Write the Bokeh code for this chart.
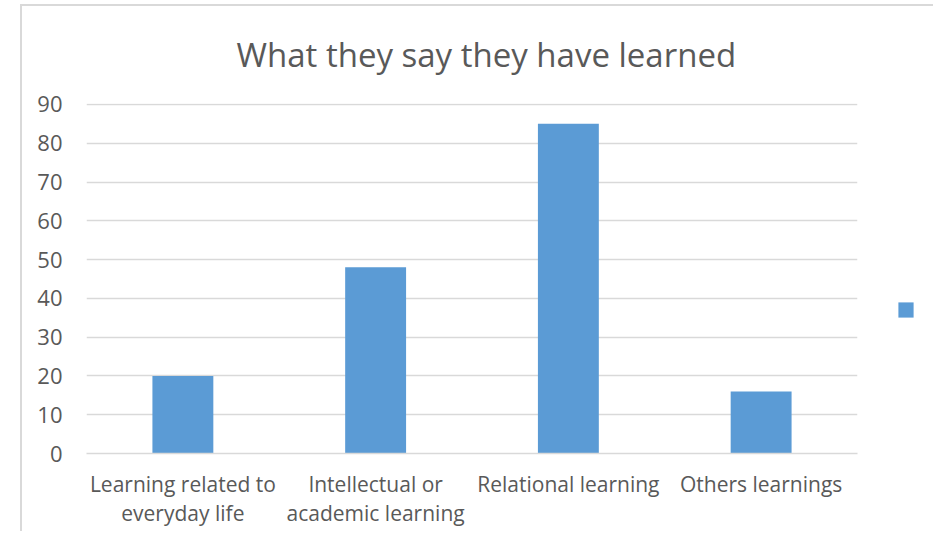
from bokeh.plotting import figure
from bokeh.models import Legend, LegendItem, ColumnDataSource
from bokeh.embed import file_html
from bokeh.resources import INLINE

categories = ["Learning related to\neveryday life", "Intellectual or\nacademic learning",
              "Relational learning", "Others learnings"]
values = [20, 48, 85, 16]
y_ticks = [0, 10, 20, 30, 40, 50, 60, 70, 80, 90]
title_text = "What they say they have learned"

FONT = "Open Sans"
TXT = "#595959"
GRID = "#d9d9d9"
BAR = "#5B9BD5"

src = ColumnDataSource(dict(cat=categories, val=values))

p = figure(x_range=categories, y_range=(0, 90.25), frame_width=771, frame_height=350,
           output_backend="svg", toolbar_location=None,
           min_border_left=86, min_border_right=68, min_border_top=103, min_border_bottom=78)
p.border_fill_alpha = 0
p.styles = {"background": "linear-gradient(#d9d9d9, #d9d9d9) 20px 4px / 2px 100% no-repeat, "
                          "linear-gradient(#d9d9d9, #d9d9d9) 20px 4px / 100% 2px no-repeat, white"}

r = p.vbar(x="cat", top="val", width=0.316, source=src, color=BAR, line_color=None)

p.title.text = title_text
p.title.align = "left"
p.title.text_font = FONT
p.title.text_font_style = "normal"
p.title.text_font_size = "33px"
p.title.text_color = TXT
p.title.offset = 150
p.title.standoff = 54

p.outline_line_color = None
p.xgrid.grid_line_color = None
p.ygrid.grid_line_color = GRID
p.ygrid.grid_line_width = 1.5
p.yaxis.ticker = y_ticks
p.yaxis.axis_line_color = None
p.yaxis.major_tick_line_color = None
p.yaxis.minor_tick_line_color = None
p.yaxis.major_label_text_font = FONT
p.yaxis.major_label_text_font_size = "22px"
p.yaxis.major_label_text_color = TXT
p.yaxis.major_label_standoff = 18

p.xaxis.axis_line_color = GRID
p.xaxis.axis_line_width = 1.5
p.xaxis.major_tick_line_color = None
p.xaxis.minor_tick_line_color = None
p.xaxis.major_label_text_font = FONT
p.xaxis.major_label_text_font_size = "21px"
p.xaxis.major_label_text_color = TXT
p.xaxis.major_label_text_line_height = 1.05
p.xaxis.major_label_standoff = 10

legend = Legend(items=[LegendItem(label=" ", renderers=[r])], location=(39, 134),
                glyph_width=19, glyph_height=19, border_line_color=None,
                background_fill_alpha=0, padding=0, margin=0, label_text_font_size="10px",
                label_standoff=0, label_width=0)
p.add_layout(legend, "right")

open("out.html", "w").write(file_html(p, INLINE))
